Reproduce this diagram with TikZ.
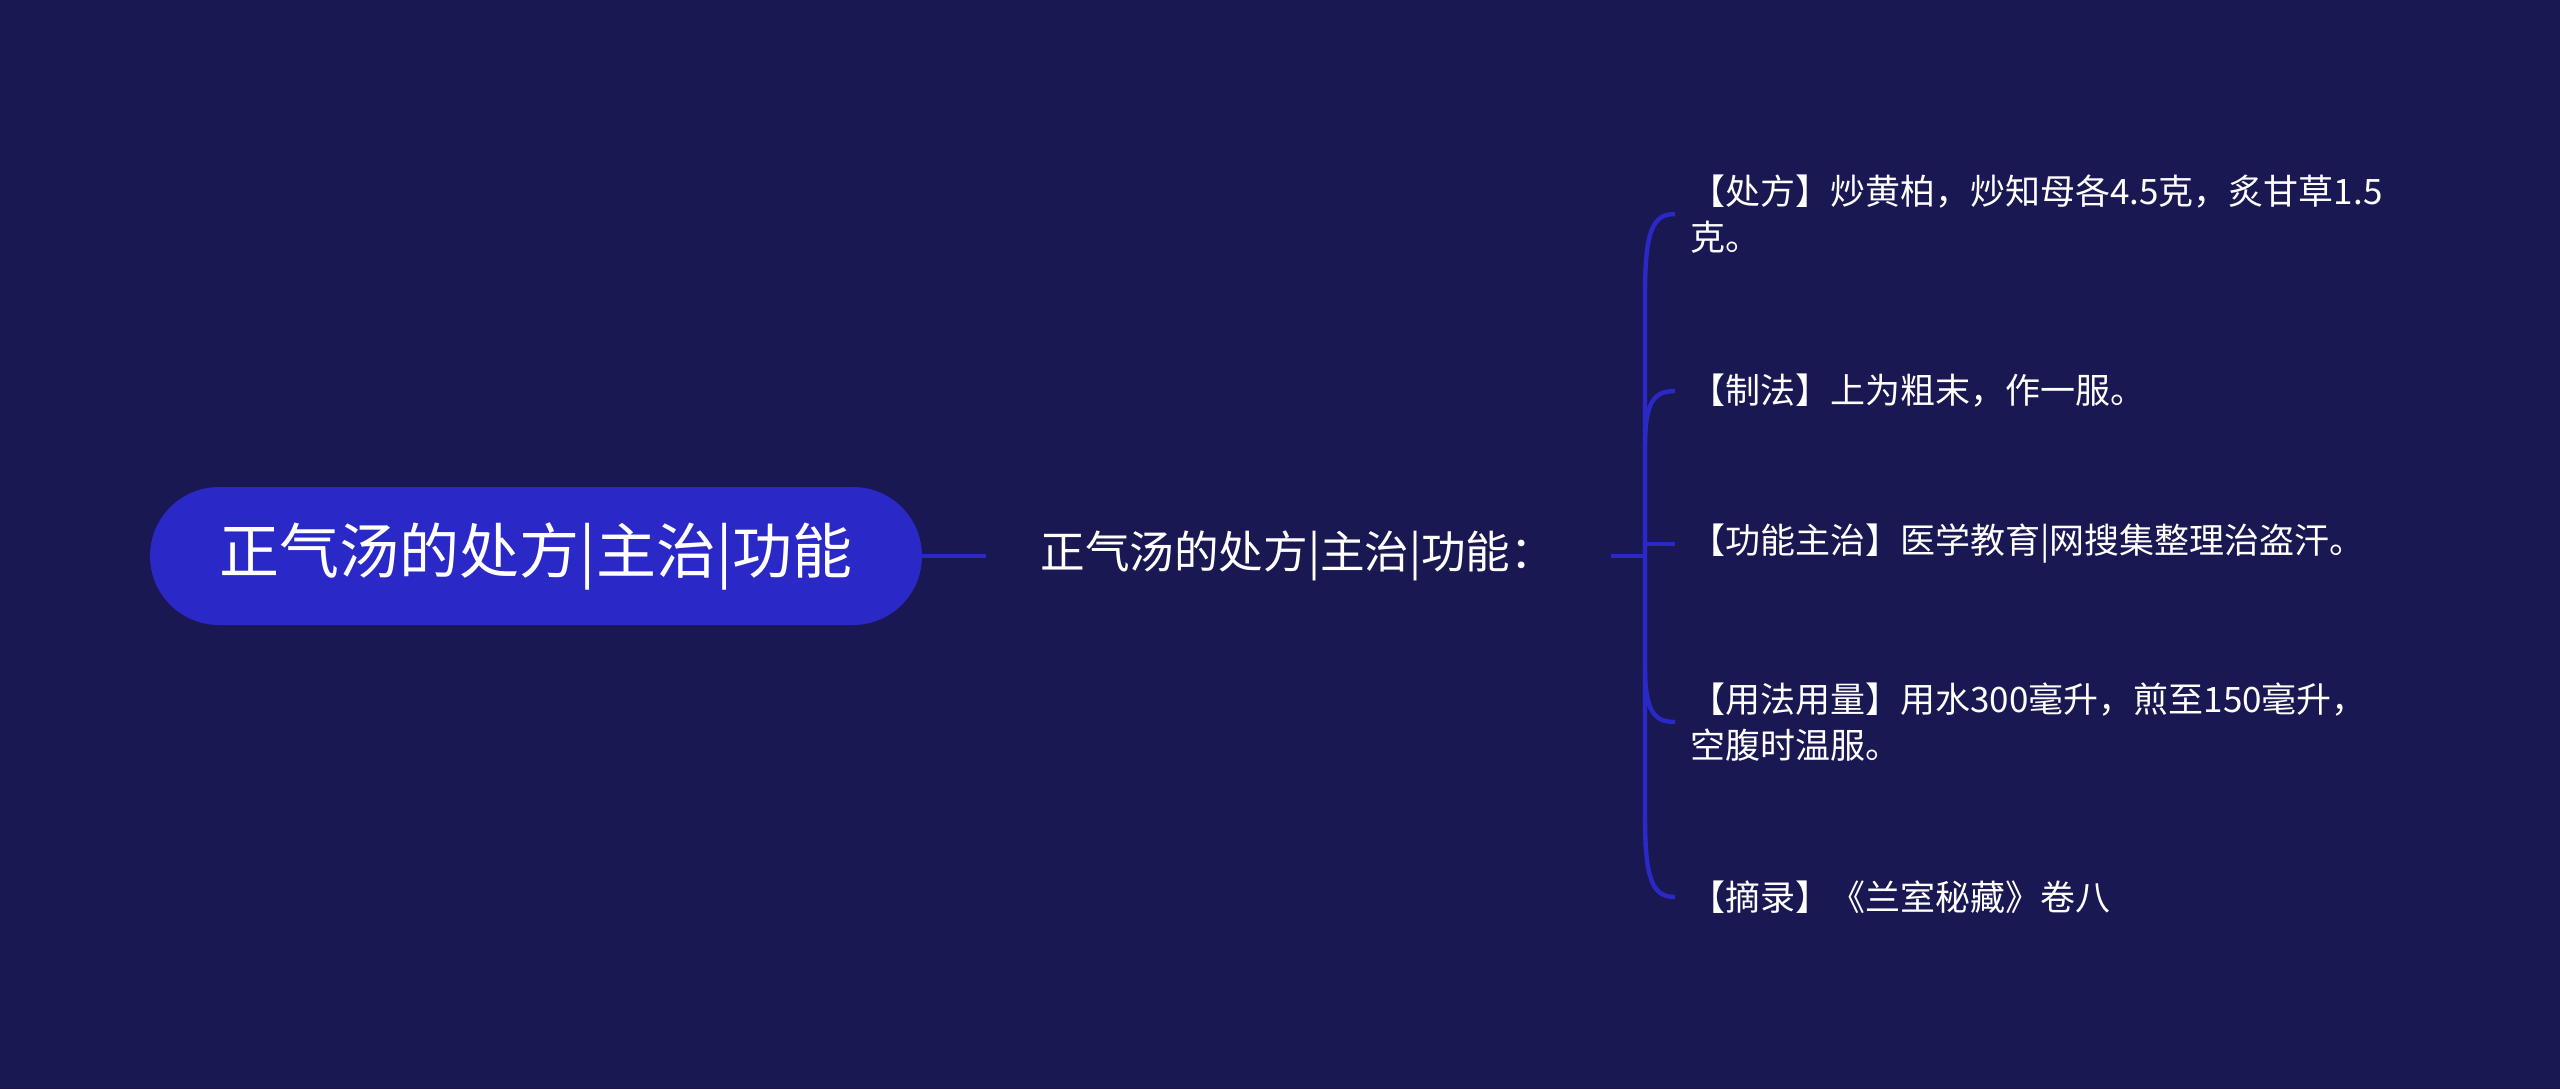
\documentclass[tikz,border=0pt]{standalone}
\usepackage{fontspec}
\setmainfont{Noto Sans CJK SC}
\usetikzlibrary{positioning}
\definecolor{bgnavy}{HTML}{1A1852}
\definecolor{pillblue}{HTML}{2A29C8}
\tikzset{
    rootnode/.style = {fill = pillblue, text = white, rounded corners = 34.5pt, minimum width = 386pt, minimum height = 69pt, font = \fontsize{30}{35}\selectfont},
    midnode/.style = {text = white, inner sep = 0pt, anchor = west, font = \fontsize{22.3}{27}\selectfont},
    leafnode/.style = {text = white, inner xsep = 7.5pt, inner ysep = 0pt, anchor = west, align = left, font = \fontsize{17.5}{23}\selectfont},
    link/.style = {draw = pillblue, line width = 2.2pt}
}

\begin{document}
\begin{tikzpicture}[x = 0.5pt, y = -0.5pt]
        \fill [bgnavy] (0,0) rectangle (2560,1089);
        \useasboundingbox (0,0) rectangle (2560,1089);
        \node [rootnode] (root) at (536,556) {正气汤的处方|主治|功能};
        \node [midnode] (mid) at (1040,556) {正气汤的处方|主治|功能：};
        \coordinate (midin) at (986,556);
        \coordinate (midout) at (1611,556);
        \coordinate (spine) at (1645,556);
        \node [leafnode] (c1) at (1675,214) {【处方】炒黄柏，炒知母各4.5克，炙甘草1.5\\克。};
        \node [leafnode] (c2) at (1675,391) {【制法】上为粗末，作一服。};
        \node [leafnode] (c3) at (1675,544) {【功能主治】医学教育|网搜集整理治盗汗。};
        \node [leafnode] (c4) at (1675,722) {【用法用量】用水300毫升，煎至150毫升，\\空腹时温服。};
        \node [leafnode] (c5) at (1675,897) {【摘录】《兰室秘藏》卷八};
        % connectors
        \draw [link] (root.east) -- (midin);
        \draw [link] (midout) -- (spine);
        \draw [link] (spine) -- ([yshift=-40pt]spine |- c1.west) .. controls ([yshift=-8pt]spine |- c1.west) and ([xshift=4pt]spine |- c1.west) .. (c1.west);
        \draw [link] (spine) -- ([yshift=-28pt]spine |- c2.west) .. controls ([yshift=-6pt]spine |- c2.west) and ([xshift=4pt]spine |- c2.west) .. (c2.west);
        \draw [link] (spine) |- (c3.west);
        \draw [link] (spine) -- ([yshift=28pt]spine |- c4.west) .. controls ([yshift=6pt]spine |- c4.west) and ([xshift=4pt]spine |- c4.west) .. (c4.west);
        \draw [link] (spine) -- ([yshift=40pt]spine |- c5.west) .. controls ([yshift=8pt]spine |- c5.west) and ([xshift=4pt]spine |- c5.west) .. (c5.west);
    \end{tikzpicture}
\end{document}
